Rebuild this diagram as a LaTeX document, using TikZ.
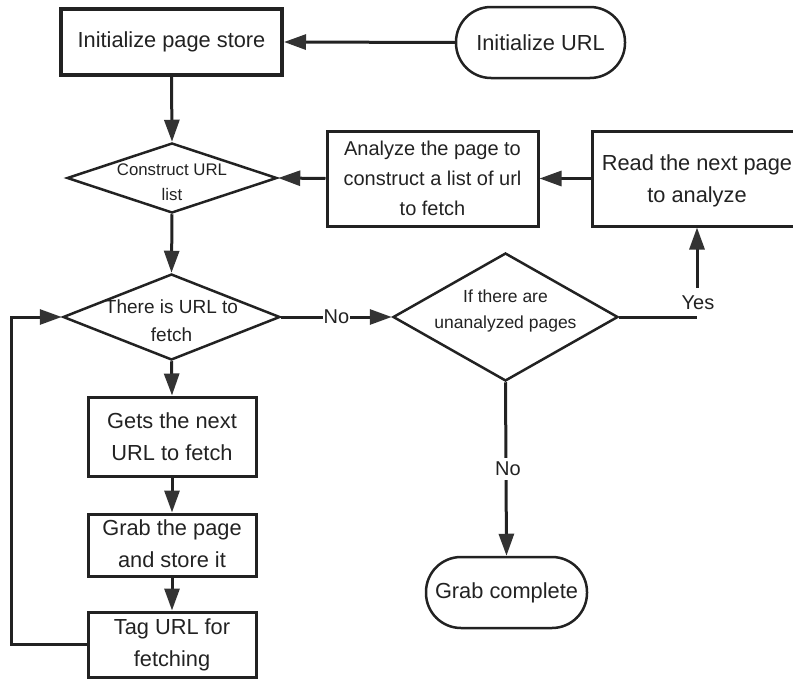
\documentclass[tikz,border=0pt]{standalone}
\usepackage{fontspec}
\setmainfont{Liberation Sans}
\usetikzlibrary{shapes.geometric,arrows.meta}
\definecolor{ink}{HTML}{222222}
\definecolor{tipc}{HTML}{333333}
\begin{document}
\begin{tikzpicture}[x=1pt,y=1pt,
  box/.style={draw=ink, line width=3pt, rectangle, inner sep=0pt, text=ink},
  term/.style={draw=ink, line width=2.5pt, rectangle, rounded corners=35pt, inner sep=0pt, text=ink},
  dia/.style={draw=ink, line width=2.5pt, diamond, inner sep=0pt},
  txt/.style={align=center, text=ink, inner sep=0pt},
  conn/.style={draw=ink, line width=3pt},
  arr/.style={conn, -{Triangle[length=22pt,width=15pt,color=tipc]}},
  lbl/.style={fill=white, text=ink, inner sep=4pt, font={\fontsize{20}{24}\selectfont}},
  fA/.style={font={\fontsize{21.8}{32}\selectfont}},
  fB/.style={font={\fontsize{20}{30}\selectfont}},
  fC/.style={font={\fontsize{19}{28}\selectfont}},
  fD/.style={font={\fontsize{17.5}{25.5}\selectfont}},
  fE/.style={font={\fontsize{16.8}{25}\selectfont}}
]
\useasboundingbox (0,0) rectangle (793,-680);
\clip (0,0) rectangle (793,-680);

% nodes
\node[box, line width=4pt, minimum width=221pt, minimum height=66pt] (ips) at (171.5,-42) {};
\node[txt, fA] at (ips) {Initialize page store};

\node[term, minimum width=169pt, minimum height=71pt] (url) at (540.5,-42.5) {};
\node[txt, fA] at (url) {Initialize URL};

\node[dia, minimum width=210pt, minimum height=70pt] (cons) at (172,-178) {};
\node[txt, fE] at (172,-182) {Construct URL\\list};

\node[box, minimum width=211pt, minimum height=95pt] (ana) at (432.5,-178.5) {};
\node[txt, fB] at (ana) {Analyze the page to\\construct a list of url\\to fetch};

\node[box, minimum width=210pt, minimum height=95pt] (read) at (697,-178.5) {};
\node[txt, fA] at (697,-181) {Read the next page\\to analyze};

\node[dia, minimum width=217pt, minimum height=86pt] (there) at (171.5,-317) {};
\node[txt, fC] at (171.5,-321) {There is URL to\\fetch};

\node[dia, minimum width=225pt, minimum height=128pt] (unan) at (505.5,-317) {};
\node[txt, fD] at (505.5,-311) {If there are\\unanalyzed pages};

\node[box, minimum width=168pt, minimum height=79pt] (gets) at (172,-436.5) {};
\node[txt, fA] at (gets) {Gets the next\\URL to fetch};

\node[box, minimum width=168pt, minimum height=62pt] (grab) at (172,-545) {};
\node[txt, fA] at (172,-544) {Grab the page\\and store it};

\node[box, minimum width=168pt, minimum height=65pt] (tag) at (172,-644.5) {};
\node[txt, fA] at (172,-645) {Tag URL for\\fetching};

\node[term, minimum width=161pt, minimum height=71pt] (done) at (506.5,-592.5) {};
\node[txt, fA] at (done) {Grab complete};

% connectors
\draw[arr] (url.west) -- (ips.east);
\draw[arr] (ips.south) -- (cons.north);
\draw[arr] (ana.west) -- (cons.east);
\draw[arr] (read.west) -- (ana.east);
\draw[arr] (cons.south) -- (there.north);
\draw[arr] (there.east) -- node[lbl, inner sep=1pt, pos=0.5] {No} (unan.west);
\coordinate (yc) at (697,-317);
\coordinate (ys) at (697,-288);
\draw[conn] (unan.east) -- (yc);
\node[lbl, inner sep=1pt] at (698,-303) {Yes};
\draw[arr] (ys) -- (read.south);
\draw[arr] (unan.south) -- node[lbl, pos=0.5, xshift=2pt] {No} (done.north);
\draw[arr] (there.south) -- (gets.north);
\draw[arr] (gets.south) -- (grab.north);
\draw[arr] (grab.south) -- (tag.north);
\draw[arr] (tag.west) -- ++(-75,0) |- (there.west);
\end{tikzpicture}
\end{document}
